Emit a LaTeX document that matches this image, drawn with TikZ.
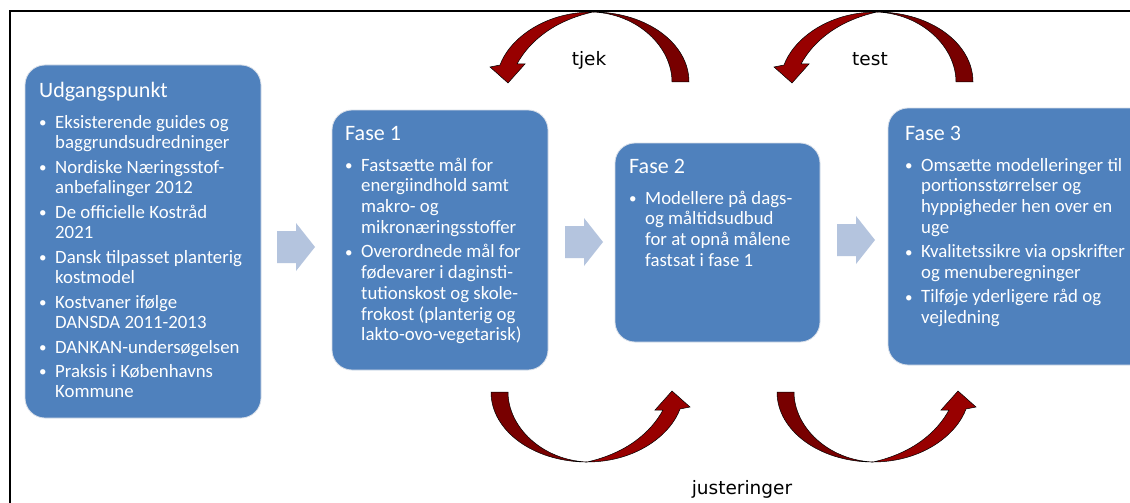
\documentclass[tikz,border=0pt]{standalone}
\usepackage{graphicx}
\usepackage{fontspec}
\setmainfont{Carlito}
\newfontfamily\lblfont{DejaVu Sans}
\definecolor{boxblue}{RGB}{79,129,189}
\definecolor{boxedge}{RGB}{215,222,232}
\definecolor{blockarrowcol}{RGB}{180,196,222}
\definecolor{taildark}{RGB}{120,0,0}
\definecolor{headred}{RGB}{152,0,0}
\newcommand\bulletitem[1]{\hangindent=16pt\hangafter=1\noindent\makebox[16pt][l]{\raisebox{0.6pt}{\scalebox{0.8}{\textbullet}}}#1\par}
\newcommand\phasetext[3]{\parbox[t]{#1}{\raggedright\fontsize{22}{26}\selectfont #2\par\fontsize{18.8}{20.8}\selectfont\vspace{6.8pt}\parskip=3.4pt #3}}
\begin{document}
\begin{tikzpicture}[x=1pt,y=-1pt,
  phasebox/.style={draw=boxedge, line width=0.8pt, fill=boxblue, rounded corners=20pt, inner sep=0pt},
  phasetxt/.style={anchor=base west, inner sep=0pt, text=white},
  looplabel/.style={anchor=base, inner sep=0pt, font=\lblfont\fontsize{18.5}{22}\selectfont, text=black},
  curvearrow/.pic={
    \filldraw[fill=taildark, draw=black, line width=0.5pt]
      (0,0) .. controls (53,0) and (96,31) .. (96,70) -- (79,70)
      .. controls (79,35) and (45,2) .. (0,0) -- cycle;
    \filldraw[fill=headred, draw=black, line width=0.5pt]
      (0,0) .. controls (-50,0) and (-84,28) .. (-93,53) -- (-103,55) -- (-85,71)
      -- (-68,52) -- (-76,52) .. controls (-64,30) and (-40,9) .. (0,0) -- cycle;
  },
  blockarrow/.pic={
    \fill[blockarrowcol] (0,-16) -- (19,-16) -- (19,-24) -- (38,0) -- (19,24) -- (19,16) -- (0,16) -- cycle;
  }]
\useasboundingbox (0,0) rectangle (1130,503);
\clip (0,0) rectangle (1130,503);
\fill[white] (0,0) rectangle (1130,503);

% frame
\draw[line width=2.5pt] (1135,11) -- (10,11) -- (10,510);

% boxes
\node[phasebox, minimum width=236pt, minimum height=353pt] (b0) at (143,241.5) {};
\node[phasebox, minimum width=216pt, minimum height=260pt] (b1) at (440,240) {};
\node[phasebox, minimum width=205pt, minimum height=199pt] (b2) at (717.5,242.5) {};
\node[phasebox, minimum width=262pt, minimum height=257pt] (b3) at (1019,236.5) {};

% texts
\node[phasetxt] (t0) at (39,97) {\phasetext{240pt}{Udgangspunkt}{%
\bulletitem{Eksisterende guides og\newline baggrundsudredninger}
\bulletitem{Nordiske Næringsstof-\newline anbefalinger 2012}
\bulletitem{De officielle Kostråd\newline 2021}
\bulletitem{Dansk tilpasset planterig\newline kostmodel}
\bulletitem{Kostvaner ifølge\newline DANSDA 2011-2013}
\bulletitem{DANKAN-undersøgelsen}
\bulletitem{Praksis i Københavns\newline Kommune}}};

\node[phasetxt] (t1) at (345,140) {\phasetext{220pt}{Fase 1}{%
\bulletitem{Fastsætte mål for\newline energiindhold samt\newline makro- og\newline mikronæringsstoffer}
\bulletitem{Overordnede mål for\newline fødevarer i daginsti-\newline tutionskost og skole-\newline frokost (planterig og\newline lakto-ovo-vegetarisk)}}};

\node[phasetxt] (t2) at (629,173) {\phasetext{210pt}{Fase 2}{%
\bulletitem{Modellere på dags-\newline og måltidsudbud\newline for at opnå målene\newline fastsat i fase 1}}};

\node[phasetxt] (t3) at (905,140) {\phasetext{260pt}{Fase 3}{%
\bulletitem{Omsætte modelleringer til\newline portionsstørrelser og\newline hyppigheder hen over en\newline uge}
\bulletitem{Kvalitetssikre via opskrifter\newline og menuberegninger}
\bulletitem{Tilføje yderligere råd og\newline vejledning}}};

% block arrows between boxes
\pic at (277,247) {blockarrow};
\pic at (565,242) {blockarrow};
\pic at (837,240) {blockarrow};

% curved loop arrows
\pic at (593,12) {curvearrow};
\pic at (877,12) {curvearrow};
\pic[rotate=180] at (587,462) {curvearrow};
\pic[rotate=180] at (873,462) {curvearrow};

% labels
\node[looplabel] (l1) at (589,66) {tjek};
\node[looplabel] (l2) at (870,66) {test};
\node[looplabel] (l3) at (742,494) {justeringer};
\end{tikzpicture}
\end{document}
